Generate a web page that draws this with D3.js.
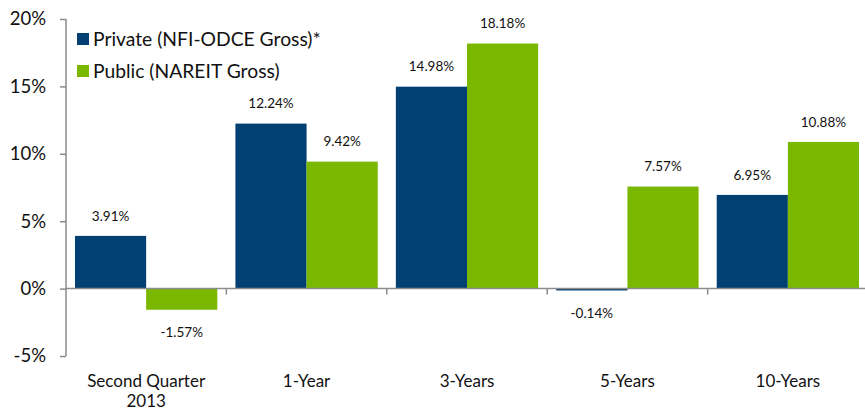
<!DOCTYPE html>
<html>
<head>
<meta charset="utf-8">
<script src="https://cdn.jsdelivr.net/npm/d3@7"></script>
<style>
  html, body { margin: 0; padding: 0; background: #fff; }
  svg { display: block; font-family: Lato, "Open Sans", sans-serif; }
</style>
</head>
<body>
<svg id="chart" width="865" height="410"></svg>
<script>
// Total returns by horizon
const categories = ["Second Quarter\n2013", "1-Year", "3-Years", "5-Years", "10-Years"];
const seriesNames = ["Private (NFI-ODCE Gross)*", "Public (NAREIT Gross)"];
const privateValues = [3.91, 12.24, 14.98, -0.14, 6.95];
const publicValues = [-1.57, 9.42, 18.18, 7.57, 10.88];
const yTicks = [-5, 0, 5, 10, 15, 20];
const colors = ["#023f72", "#7ab800"];

const svg = d3.select("#chart");
const margin = { left: 66, right: -3, top: 19, bottom: 54 };
const W = 865, H = 410;

const x0 = d3.scaleBand()
  .domain(categories)
  .range([margin.left, W - margin.right])
  .paddingInner(0.113)
  .paddingOuter(0.056);
const x1 = d3.scaleBand().domain([0, 1]).range([0, x0.bandwidth()]);
const y = d3.scaleLinear().domain([-5, 20]).range([356, 19]);

const axisColor = "#8c8c8c";
const textColor = "#111";

// Bars
const rows = categories.map((c, i) => ({ cat: c, vals: [privateValues[i], publicValues[i]] }));
const groups = svg.append("g").selectAll("g").data(rows).join("g")
  .attr("transform", d => `translate(${x0(d.cat)},0)`);

groups.selectAll("rect").data(d => d.vals.map((v, k) => ({ v, k })))
  .join("rect")
  .attr("x", d => x1(d.k))
  .attr("width", x1.bandwidth())
  .attr("y", d => y(Math.max(0, d.v)))
  .attr("height", d => Math.abs(y(d.v) - y(0)))
  .attr("fill", d => colors[d.k]);

// Value labels
groups.selectAll("text.val").data(d => d.vals.map((v, k) => ({ v, k })))
  .join("text")
  .attr("class", "val")
  .attr("x", d => x1(d.k) + x1.bandwidth() / 2)
  .attr("y", d => d.v >= 0 ? y(d.v) - 20 : y(d.v) + 23)
  .attr("dy", "0.35em")
  .attr("text-anchor", "middle")
  .attr("font-size", 13.5)
  .attr("fill", textColor)
  .text(d => d.v.toFixed(2) + "%");

// Y axis
const yAxis = svg.append("g")
  .attr("transform", `translate(${margin.left},0)`)
  .call(d3.axisLeft(y).tickValues(yTicks).tickSize(6).tickPadding(14).tickFormat(d => d + "%"));
yAxis.select(".domain").attr("stroke", axisColor).attr("stroke-width", 1.5).attr("d", `M0,${y(20)}V${y(-5)}`);
yAxis.selectAll(".tick line").attr("stroke", axisColor).attr("stroke-width", 1.5);
yAxis.selectAll(".tick text").attr("font-size", 18.5).attr("fill", textColor).attr("font-family", "Lato, sans-serif");

// Zero baseline with category separator ticks
const xAxis = svg.append("g").attr("transform", `translate(0,${y(0)})`);
xAxis.append("line")
  .attr("x1", margin.left).attr("x2", W)
  .attr("stroke", axisColor).attr("stroke-width", 1.5);
const step = x0.step();
const bounds = categories.slice(1).map(c => x0(c) - (step - x0.bandwidth()) / 2);
xAxis.selectAll("line.sep").data(bounds).join("line")
  .attr("class", "sep")
  .attr("x1", d => d).attr("x2", d => d)
  .attr("y1", 0).attr("y2", 6)
  .attr("stroke", axisColor).attr("stroke-width", 1.5);

// Category labels
const catLabels = svg.append("g").selectAll("text").data(categories).join("text")
  .attr("x", d => x0(d) + x0.bandwidth() / 2)
  .attr("y", 381)
  .attr("text-anchor", "middle")
  .attr("font-size", 17)
  .attr("fill", textColor);
catLabels.each(function(d) {
  const lines = d.split("\n");
  d3.select(this).selectAll("tspan").data(lines).join("tspan")
    .attr("x", x0(d) + x0.bandwidth() / 2)
    .attr("dy", (l, i) => i === 0 ? "0.35em" : "1.15em")
    .text(l => l);
});

// Legend
const legend = svg.append("g").attr("transform", "translate(77,33)");
seriesNames.forEach((name, i) => {
  const g = legend.append("g").attr("transform", `translate(0,${i * 32})`);
  g.append("rect").attr("width", 12).attr("height", 12).attr("fill", colors[i]);
  g.append("text").attr("x", 16).attr("y", 6).attr("dy", "0.35em")
    .attr("font-size", 19.3).attr("fill", textColor).text(name);
});
</script>
</body>
</html>
